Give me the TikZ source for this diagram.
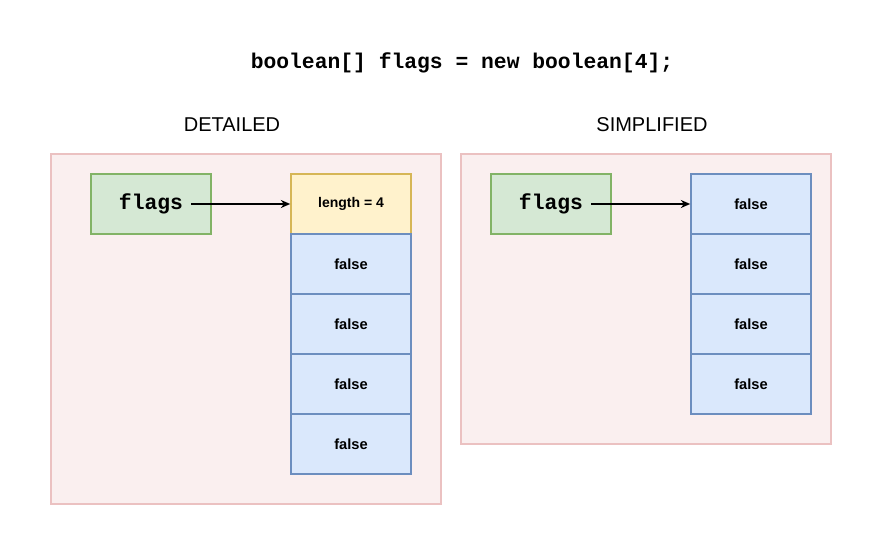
\documentclass[tikz,border=0pt]{standalone}
\usepackage{fontspec}
\setmainfont{Liberation Sans}
\newfontfamily\codefont{Liberation Mono}
\usetikzlibrary{arrows.meta}
\definecolor{panelfill}{HTML}{FAEFEF}
\definecolor{panelline}{HTML}{EBC1C1}
\definecolor{gfill}{HTML}{D5E8D4}
\definecolor{gline}{HTML}{82B366}
\definecolor{yfill}{HTML}{FFF2CC}
\definecolor{yline}{HTML}{D6B656}
\definecolor{bfill}{HTML}{DAE8FC}
\definecolor{bline}{HTML}{6C8EBF}
\begin{document}
\begin{tikzpicture}[x=0.75pt,y=-0.75pt,
  panel/.style={draw=panelline,fill=panelfill,line width=1.2pt},
  cell/.style={minimum width=90pt,minimum height=45pt,line width=1.2pt,inner sep=0pt,font=\fontsize{11}{13}\selectfont\bfseries},
  var/.style={cell,draw=gline,fill=gfill,font=\codefont\fontsize{16}{18}\selectfont\bfseries},
  len/.style={cell,draw=yline,fill=yfill,font=\fontsize{10.5}{12}\selectfont\bfseries},
  val/.style={cell,draw=bline,fill=bfill},
  head/.style={font=\fontsize{15}{18}\selectfont},
  arr/.style={-{Stealth[length=7pt,width=6pt]},line width=1.2pt}]
\useasboundingbox (0,0) rectangle (883,556);
\node[font=\codefont\fontsize{16}{18}\selectfont\bfseries] (title) at (462,63) {boolean[] flags = new boolean[4];};
\node[head] (hd) at (232,125) {DETAILED};
\node[head] (hs) at (652,125) {SIMPLIFIED};
\draw[panel] (51,154) rectangle (441,504);
\draw[panel] (461,154) rectangle (831,444);
\node[var] (f1) at (151,204) {flags};
\node[len] (l1) at (351,204) {length = 4};
\node[val] (a1) at (351,264) {false};
\node[val] (a2) at (351,324) {false};
\node[val] (a3) at (351,384) {false};
\node[val] (a4) at (351,444) {false};
\node[var] (f2) at (551,204) {flags};
\node[val] (b1) at (751,204) {false};
\node[val] (b2) at (751,264) {false};
\node[val] (b3) at (751,324) {false};
\node[val] (b4) at (751,384) {false};
\coordinate (s1) at (191,204);
\coordinate (s2) at (591,204);
\draw[arr] (s1) -- (l1.west);
\draw[arr] (s2) -- (b1.west);
\end{tikzpicture}
\end{document}
